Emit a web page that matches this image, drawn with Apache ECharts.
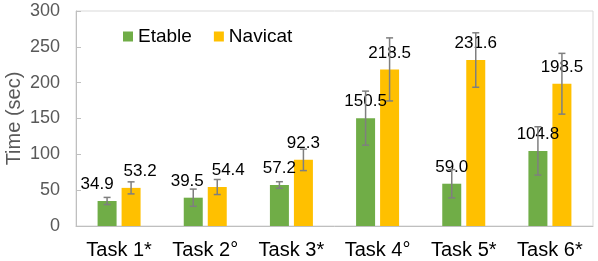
<!DOCTYPE html>
<html><head><meta charset="utf-8">
<script src="https://cdn.jsdelivr.net/npm/echarts@6/dist/echarts.min.js"></script>
<style>html,body{margin:0;padding:0;background:#fff}#c{width:598px;height:261px}</style>
</head><body><div id="c"></div>
<script>
const categories = ['Task 1*', 'Task 2°', 'Task 3*', 'Task 4°', 'Task 5*', 'Task 6*'];
const etable = [34.9, 39.5, 57.2, 150.5, 59.0, 104.8];
const navicat = [53.2, 54.4, 92.3, 218.5, 231.6, 198.5];
const etableErr = [5.0, 12.0, 4.6, 37.7, 19.7, 33.7];
const navicatErr = [8.4, 10.5, 15.0, 44.0, 38.0, 42.4];
const yTicks = [0, 50, 100, 150, 200, 250, 300];

const FONT = '"Liberation Sans", Arial, sans-serif';
const BAR_W = 19, BAR_GAP = 5;
const SHIFT = (BAR_W + BAR_GAP) / 2;
// manual label nudges (as in the original figure)
const etShift = {0: -10, 1: -6};
const naShift = {0: 9, 1: 11};

function barData(vals, shifts) {
  return vals.map((v, i) => ({
    value: v,
    label: shifts[i] !== undefined ? {offset: [shifts[i], 0]} : undefined
  }));
}
function errData(vals, errs) {
  return vals.map((v, i) => [i, v - errs[i], v + errs[i]]);
}
function errRender(side) {
  return function (params, api) {
    const x = api.value(0);
    const lo = api.coord([x, api.value(1)]);
    const hi = api.coord([x, api.value(2)]);
    const cx = lo[0] + side * SHIFT;
    const cap = 3.5;
    const style = {stroke: '#7f7f7f', lineWidth: 1.5};
    return {
      type: 'group',
      children: [
        {type: 'line', shape: {x1: cx, y1: hi[1], x2: cx, y2: lo[1]}, style},
        {type: 'line', shape: {x1: cx - cap, y1: hi[1], x2: cx + cap, y2: hi[1]}, style},
        {type: 'line', shape: {x1: cx - cap, y1: lo[1], x2: cx + cap, y2: lo[1]}, style}
      ]
    };
  };
}

const chart = echarts.init(document.getElementById('c'), null, {renderer: 'canvas'});
chart.setOption({
  animation: false,
  textStyle: {fontFamily: FONT},
  grid: {left: 76, right: 5, top: 11, bottom: 35, show: true, borderColor: '#d9d9d9', borderWidth: 1,
    containLabel: false, outerBoundsMode: 'none'},
  legend: {
    left: 118, top: 22, itemWidth: 10, itemHeight: 10, itemGap: 22,
    icon: 'rect',
    textStyle: {fontSize: 19, color: '#000', fontFamily: FONT},
    data: ['Etable', 'Navicat']
  },
  xAxis: {
    type: 'category', data: categories,
    axisLine: {lineStyle: {color: '#bfbfbf'}},
    axisTick: {show: false},
    axisLabel: {fontSize: 20, color: '#000', margin: 14, interval: 0, fontFamily: FONT}
  },
  yAxis: {
    type: 'value', min: yTicks[0], max: yTicks[yTicks.length - 1], interval: 50,
    name: 'Time (sec)', nameLocation: 'middle', nameGap: 52, nameMoveOverlap: false,
    nameTextStyle: {fontSize: 20, color: '#595959', fontFamily: FONT},
    axisLine: {show: true, lineStyle: {color: '#bfbfbf'}},
    axisTick: {show: true, inside: true, length: 5, lineStyle: {color: '#bfbfbf'}},
    splitLine: {show: false},
    axisLabel: {fontSize: 18, color: '#595959', margin: 16, fontFamily: FONT}
  },
  series: [
    {
      name: 'Etable', type: 'bar', data: barData(etable, etShift),
      barWidth: BAR_W, barGap: (BAR_GAP / BAR_W * 100) + '%',
      itemStyle: {color: '#70ad47'},
      label: {show: true, position: 'top', distance: 8, fontSize: 17, color: '#000', fontFamily: FONT,
        formatter: p => p.value.toFixed(1)}
    },
    {
      name: 'Navicat', type: 'bar', data: barData(navicat, naShift),
      barWidth: BAR_W,
      itemStyle: {color: '#ffc000'},
      label: {show: true, position: 'top', distance: 8, fontSize: 17, color: '#000', fontFamily: FONT,
        formatter: p => p.value.toFixed(1)}
    },
    {type: 'custom', renderItem: errRender(-1), data: errData(etable, etableErr), z: 5, silent: true},
    {type: 'custom', renderItem: errRender(1), data: errData(navicat, navicatErr), z: 5, silent: true}
  ]
});
</script></body></html>
